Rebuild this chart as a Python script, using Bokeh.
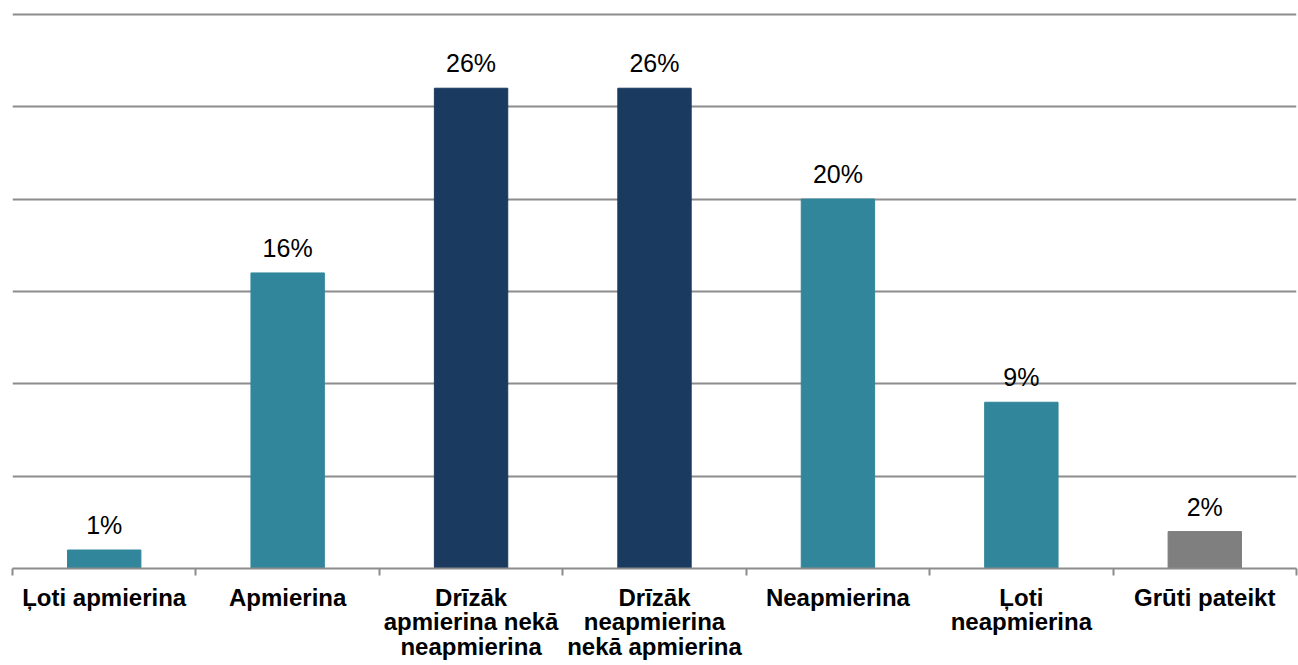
from bokeh.plotting import figure
from bokeh.models import ColumnDataSource, FixedTicker, LabelSet, Range1d
from bokeh.core.properties import value
from bokeh.embed import file_html
from bokeh.resources import INLINE

categories = ["Ļoti apmierina", "Apmierina", "Drīzāk\napmierina nekā\nneapmierina",
              "Drīzāk\nneapmierina\nnekā apmierina", "Neapmierina", "Ļoti\nneapmierina",
              "Grūti pateikt"]
values = [1, 16, 26, 26, 20, 9, 2]
labels = ["1%", "16%", "26%", "26%", "20%", "9%", "2%"]
colors = ["#31869b", "#31869b", "#1b3a5f", "#1b3a5f", "#31869b", "#31869b", "#7f7f7f"]
grid_ticks = [5, 10, 15, 20, 25, 30]

xs = list(range(1, len(categories) + 1))
src = ColumnDataSource(dict(x=xs, top=values, lab=labels, color=colors))

p = figure(width=1298, height=665, output_backend="svg", toolbar_location=None,
           x_range=Range1d(0.5, len(categories) + 0.5), y_range=Range1d(0, 30.1),
           min_border_left=12, min_border_right=2, min_border_top=12, min_border_bottom=97)
p.outline_line_color = None
p.background_fill_color = "white"

p.vbar(x="x", top="top", bottom=0, width=0.4, color="color", source=src)

p.add_layout(LabelSet(x="x", y="top", text="lab", source=src, text_align="center",
                      text_baseline="alphabetic", y_offset=16, text_font_size="25px",
                      text_font=value("Liberation Sans"), text_color="black"))

p.yaxis.visible = False
p.yaxis.ticker = FixedTicker(ticks=grid_ticks)
p.ygrid.grid_line_color = "#8c8c8c"
p.ygrid.grid_line_width = 2
p.xgrid.visible = False

ax = p.xaxis[0]
ax.ticker = FixedTicker(ticks=xs, minor_ticks=[i + 0.5 for i in range(0, len(categories) + 1)])
ax.major_label_overrides = {x: c for x, c in zip(xs, categories)}
ax.major_tick_out = 0
ax.major_tick_in = 0
ax.minor_tick_out = 7
ax.minor_tick_in = 0
ax.minor_tick_line_color = "#8c8c8c"
ax.minor_tick_line_width = 2
ax.axis_line_color = "#8c8c8c"
ax.axis_line_width = 2
ax.major_label_text_font = "Liberation Sans"
ax.major_label_text_font_style = "bold"
ax.major_label_text_font_size = "24px"
ax.major_label_text_line_height = 0.92
ax.major_label_text_color = "black"
ax.major_label_standoff = 8

open("out.html", "w").write(file_html(p, INLINE))
